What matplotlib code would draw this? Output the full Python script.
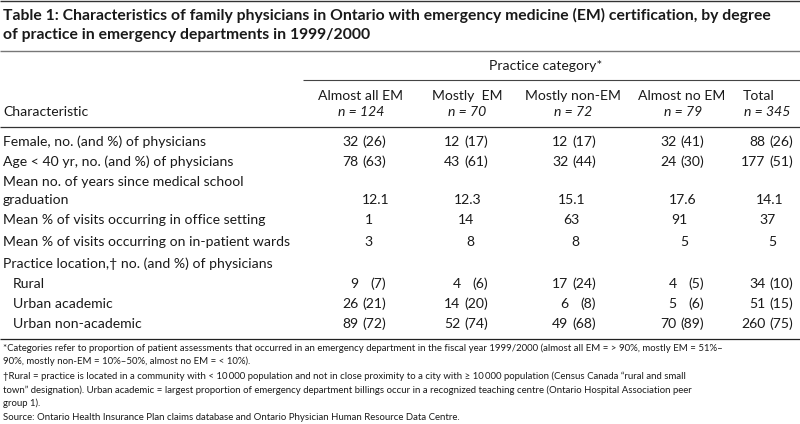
import matplotlib
matplotlib.use("Agg")
import matplotlib.pyplot as plt

# ---------------- data ----------------
title_lines = [
    "Table 1: Characteristics of family physicians in Ontario with emergency medicine (EM) certification, by degree",
    "of practice in emergency departments in 1999/2000",
]
group_header = "Practice category*"
categories = ["Almost all EM", "Mostly  EM", "Mostly non-EM", "Almost no EM", "Total"]
n_values = [124, 70, 72, 79, 345]

female_n = [32, 12, 12, 32, 88]
female_pct = [26, 17, 17, 41, 26]
age_n = [78, 43, 32, 24, 177]
age_pct = [63, 61, 44, 30, 51]
mean_years = [12.1, 12.3, 15.1, 17.6, 14.1]
office_pct = [1, 14, 63, 91, 37]
wards_pct = [3, 8, 8, 5, 5]
rural_n = [9, 4, 17, 4, 34]
rural_pct = [7, 6, 24, 5, 10]
urban_acad_n = [26, 14, 6, 5, 51]
urban_acad_pct = [21, 20, 8, 6, 15]
urban_nonacad_n = [89, 52, 49, 70, 260]
urban_nonacad_pct = [72, 74, 68, 89, 75]

row_labels = [
    "Female, no. (and %) of physicians",
    "Age < 40 yr, no. (and %) of physicians",
    "Mean no. of years since medical school\ngraduation",
    "Mean % of visits occurring in office setting",
    "Mean % of visits occurring on in-patient wards",
    "Practice location,\u2020 no. (and %) of physicians",
    "Rural",
    "Urban academic",
    "Urban non-academic",
]

footnotes = [
    "*Categories refer to proportion of patient assessments that occurred in an emergency department in the fiscal year 1999/2000 (almost all EM = > 90%, mostly EM = 51%\u2013",
    "90%, mostly non-EM = 10%\u201350%, almost no EM = < 10%).",
    "\u2020Rural = practice is located in a community with < 10\u2009000 population and not in close proximity to a city with \u2265 10\u2009000 population (Census Canada \u201crural and small",
    "town\u201d designation). Urban academic = largest proportion of emergency department billings occur in a recognized teaching centre (Ontario Hospital Association peer",
    "group 1).",
    "Source: Ontario Health Insurance Plan claims database and Ontario Physician Human Resource Data Centre.",
]

# ---------------- layout ----------------
W, H = 800, 424
FONT = ["Lato", "DejaVu Sans"]
TXT = "#1a1a1a"
BODY = 10.1
fig = plt.figure(figsize=(W / 100, H / 100), dpi=100)
ax = fig.add_axes([0, 0, 1, 1])
ax.set_xlim(0, W)
ax.set_ylim(H, 0)
ax.axis("off")

def t(x, y, s, size=BODY, ha="left", **kw):
    ax.text(x, y, s, fontsize=size, ha=ha, va="baseline", color=TXT, family=FONT, **kw)

# title
t(3, 20, title_lines[0], size=11.3, weight="bold")
t(3, 39.5, title_lines[1], size=11.3, weight="bold")

# rules
ax.hlines(0.8, 0, W, color="#333333", lw=1.0)
ax.hlines(50.5, 0, W, color="#777777", lw=1.0)
ax.hlines(79.5, 303, W, color="#444444", lw=0.8)
ax.hlines(127, 0, W, color="#333333", lw=0.9)
ax.hlines(339, 0, W, color="#222222", lw=0.9)

# header
t(546, 69.5, group_header, ha="center")
head_x = [360, 467, 573, 682, 759]
n_x = [361, 467, 573, 683, 767]
for i, c in enumerate(categories):
    t(head_x[i], 99.5, c, ha="center")
    t(n_x[i], 115.5, f"n = {n_values[i]}", ha="center", style="italic")
t(3, 115.5, "Characteristic")

# body rows
label_y = [145.5, 166.5, 186.5, 224.5, 245.5, 267.5, 288.5, 308.5, 328.5]
grad_y = 203.5
indent = [3, 3, 3, 3, 3, 3, 13, 13, 13]
for i, lab in enumerate(row_labels):
    if "\n" in lab:
        a, b = lab.split("\n")
        t(indent[i], label_y[i], a)
        t(indent[i], grad_y, b)
    else:
        t(indent[i], label_y[i], lab)

col_right = [386, 488, 596, 704, 793]
int_right = [373, 474, 579, 688, 776]
dec_center = [376, 468, 572, 683, 770]

def count_row(y, ns, ps):
    for j in range(5):
        t(col_right[j], y, f"({ps[j]})", ha="right")
        t(col_right[j] - 27.5, y, f"{ns[j]}", ha="right")

count_row(label_y[0], female_n, female_pct)
count_row(label_y[1], age_n, age_pct)
for j in range(5):
    t(dec_center[j], grad_y, f"{mean_years[j]:.1f}", ha="center")
    t(int_right[j], label_y[3], f"{office_pct[j]}", ha="right")
    t(int_right[j], label_y[4], f"{wards_pct[j]}", ha="right")
count_row(label_y[6], rural_n, rural_pct)
count_row(label_y[7], urban_acad_n, urban_acad_pct)
count_row(label_y[8], urban_nonacad_n, urban_nonacad_pct)

# footnotes
foot_y = [351, 364, 379, 393, 406, 420]
for y, s in zip(foot_y, footnotes):
    t(3, y, s, size=6.9)

fig.savefig("out.png", dpi=100, facecolor="white")
